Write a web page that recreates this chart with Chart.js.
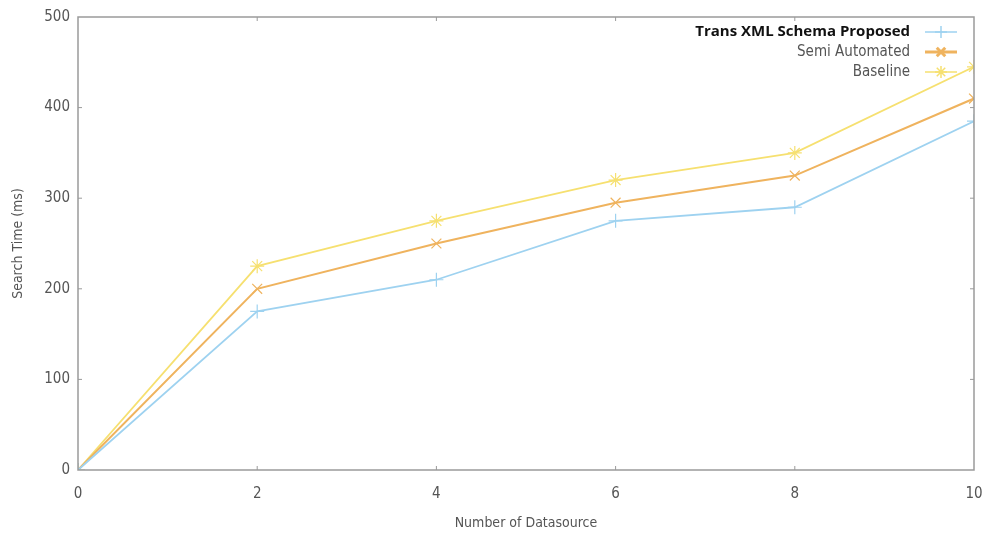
<!DOCTYPE html>
<html>
<head>
<meta charset="utf-8">
<script src="https://cdn.jsdelivr.net/npm/chart.js@4/dist/chart.umd.min.js"></script>
<style>
html,body{margin:0;padding:0;background:#fff;}
#wrap{width:984px;height:536px;position:relative;}
</style>
</head>
<body>
<div id="wrap"><canvas id="searchChart"></canvas></div>
<script>
// values
var datasources = [0, 2, 4, 6, 8, 10];
var transXml = [0, 175, 210, 275, 290, 385];
var semiAutomated = [0, 200, 250, 295, 325, 410];
var baseline = [0, 225, 275, 320, 350, 445];
var seriesNames = ['Trans XML Schema Proposed', 'Semi Automated', 'Baseline'];
var yTicks = [0, 100, 200, 300, 400, 500];

var tickFont = "'DejaVu Sans Condensed', 'Liberation Sans Narrow', sans-serif";

function toPoints(vals){
    var pts = [];
    for (var i = 0; i < vals.length; i++){
        pts.push({x: datasources[i], y: vals[i]});
    }
    return pts;
}

// box round the plot + small inward ticks like gnuplot
var framePlugin = {
    id: 'frame',
    afterDraw: function(chart){
        var ctx = chart.ctx;
        var a = chart.chartArea;
        var xs = chart.scales.x, ys = chart.scales.y;
        ctx.save();
        ctx.strokeStyle = '#9a9a9a';
        ctx.lineWidth = 1.5;
        ctx.strokeRect(a.left, a.top, a.right - a.left, a.bottom - a.top);
        ctx.lineWidth = 1;
        ctx.beginPath();
        for (var i = 1; i < yTicks.length - 1; i++){
            var py = ys.getPixelForValue(yTicks[i]);
            ctx.moveTo(a.left, py); ctx.lineTo(a.left + 4, py);
            ctx.moveTo(a.right, py); ctx.lineTo(a.right - 4, py);
        }
        for (var j = 1; j < datasources.length - 1; j++){
            var px = xs.getPixelForValue(datasources[j]);
            ctx.moveTo(px, a.bottom); ctx.lineTo(px, a.bottom - 4);
            ctx.moveTo(px, a.top); ctx.lineTo(px, a.top + 4);
        }
        ctx.stroke();
        ctx.restore();
    }
};

// legend in the top right corner, text on the left of the sample
var keyPlugin = {
    id: 'key',
    afterDraw: function(chart){
        var ctx = chart.ctx;
        var textRight = 910, lineL = 925, lineR = 957;
        var rows = [32, 52, 72];
        ctx.save();
        for (var i = 0; i < chart.data.datasets.length; i++){
            var ds = chart.data.datasets[i];
            var y = rows[i];
            ctx.textAlign = 'right';
            ctx.textBaseline = 'middle';
            if (i == 0){
                ctx.font = "bold 15px 'Open Sans', sans-serif";
                ctx.fillStyle = '#111';
            } else {
                ctx.font = "15px " + tickFont;
                ctx.fillStyle = '#555';
            }
            ctx.fillText(ds.label, textRight, y);
            ctx.strokeStyle = ds.borderColor;
            ctx.lineWidth = i == 1 ? 3 : 1.5;
            ctx.beginPath();
            ctx.moveTo(lineL, y); ctx.lineTo(lineR, y);
            ctx.stroke();
            Chart.helpers.drawPoint(ctx, {
                pointStyle: ds.pointStyle, radius: 6, borderWidth: 1.5
            }, (lineL + lineR) / 2, y);
        }
        ctx.restore();
    }
};

var ctx = document.getElementById('searchChart').getContext('2d');
var chart1 = new Chart(ctx, {
    type: 'line',
    data: {
        datasets: [{
            label: seriesNames[0],
            data: toPoints(transXml),
            borderColor: '#9ed2f0',
            backgroundColor: '#9ed2f0',
            pointStyle: 'cross',
            pointRadius: 7,
            borderWidth: 1.8,
            pointBorderWidth: 1.2
        },
        {
            label: seriesNames[1],
            data: toPoints(semiAutomated),
            borderColor: '#efb35e',
            backgroundColor: '#efb35e',
            pointStyle: 'crossRot',
            pointRadius: 7,
            borderWidth: 2,
            pointBorderWidth: 1.2
        },
        {
            label: seriesNames[2],
            data: toPoints(baseline),
            borderColor: '#f6e070',
            backgroundColor: '#f6e070',
            pointStyle: 'star',
            pointRadius: 7,
            borderWidth: 1.8,
            pointBorderWidth: 1.2
        }]
    },
    options: {
        responsive: true,
        maintainAspectRatio: false,
        animation: false,
        layout: {padding: {top: 8, right: 10, left: 0, bottom: 0}},
        plugins: {
            legend: {display: false},
            tooltip: {enabled: false}
        },
        scales: {
            x: {
                type: 'linear',
                min: 0,
                max: 10,
                afterBuildTicks: function(scale){
                    scale.ticks = datasources.map(function(v){ return {value: v}; });
                },
                afterFit: function(scale){
                    scale.height = 66;
                    scale.paddingRight = 0;
                },
                grid: {display: false, drawTicks: false},
                border: {display: false},
                ticks: {
                    padding: 15,
                    color: '#555',
                    font: {family: tickFont, size: 15},
                    maxRotation: 0
                },
                title: {
                    display: true,
                    text: 'Number of Datasource',
                    color: '#555',
                    font: {family: tickFont, size: 14},
                    padding: {top: 17}
                }
            },
            y: {
                min: 0,
                max: 500,
                afterBuildTicks: function(scale){
                    scale.ticks = yTicks.map(function(v){ return {value: v}; });
                },
                afterFit: function(scale){ scale.width = 78; },
                grid: {display: false, drawTicks: false},
                border: {display: false},
                ticks: {
                    padding: 8,
                    color: '#555',
                    font: {family: tickFont, size: 15}
                },
                title: {
                    display: true,
                    text: 'Search Time (ms)',
                    color: '#555',
                    font: {family: tickFont, size: 14},
                    padding: {top: 10, bottom: 8}
                }
            }
        }
    },
    plugins: [framePlugin, keyPlugin]
});
</script>
</body>
</html>
